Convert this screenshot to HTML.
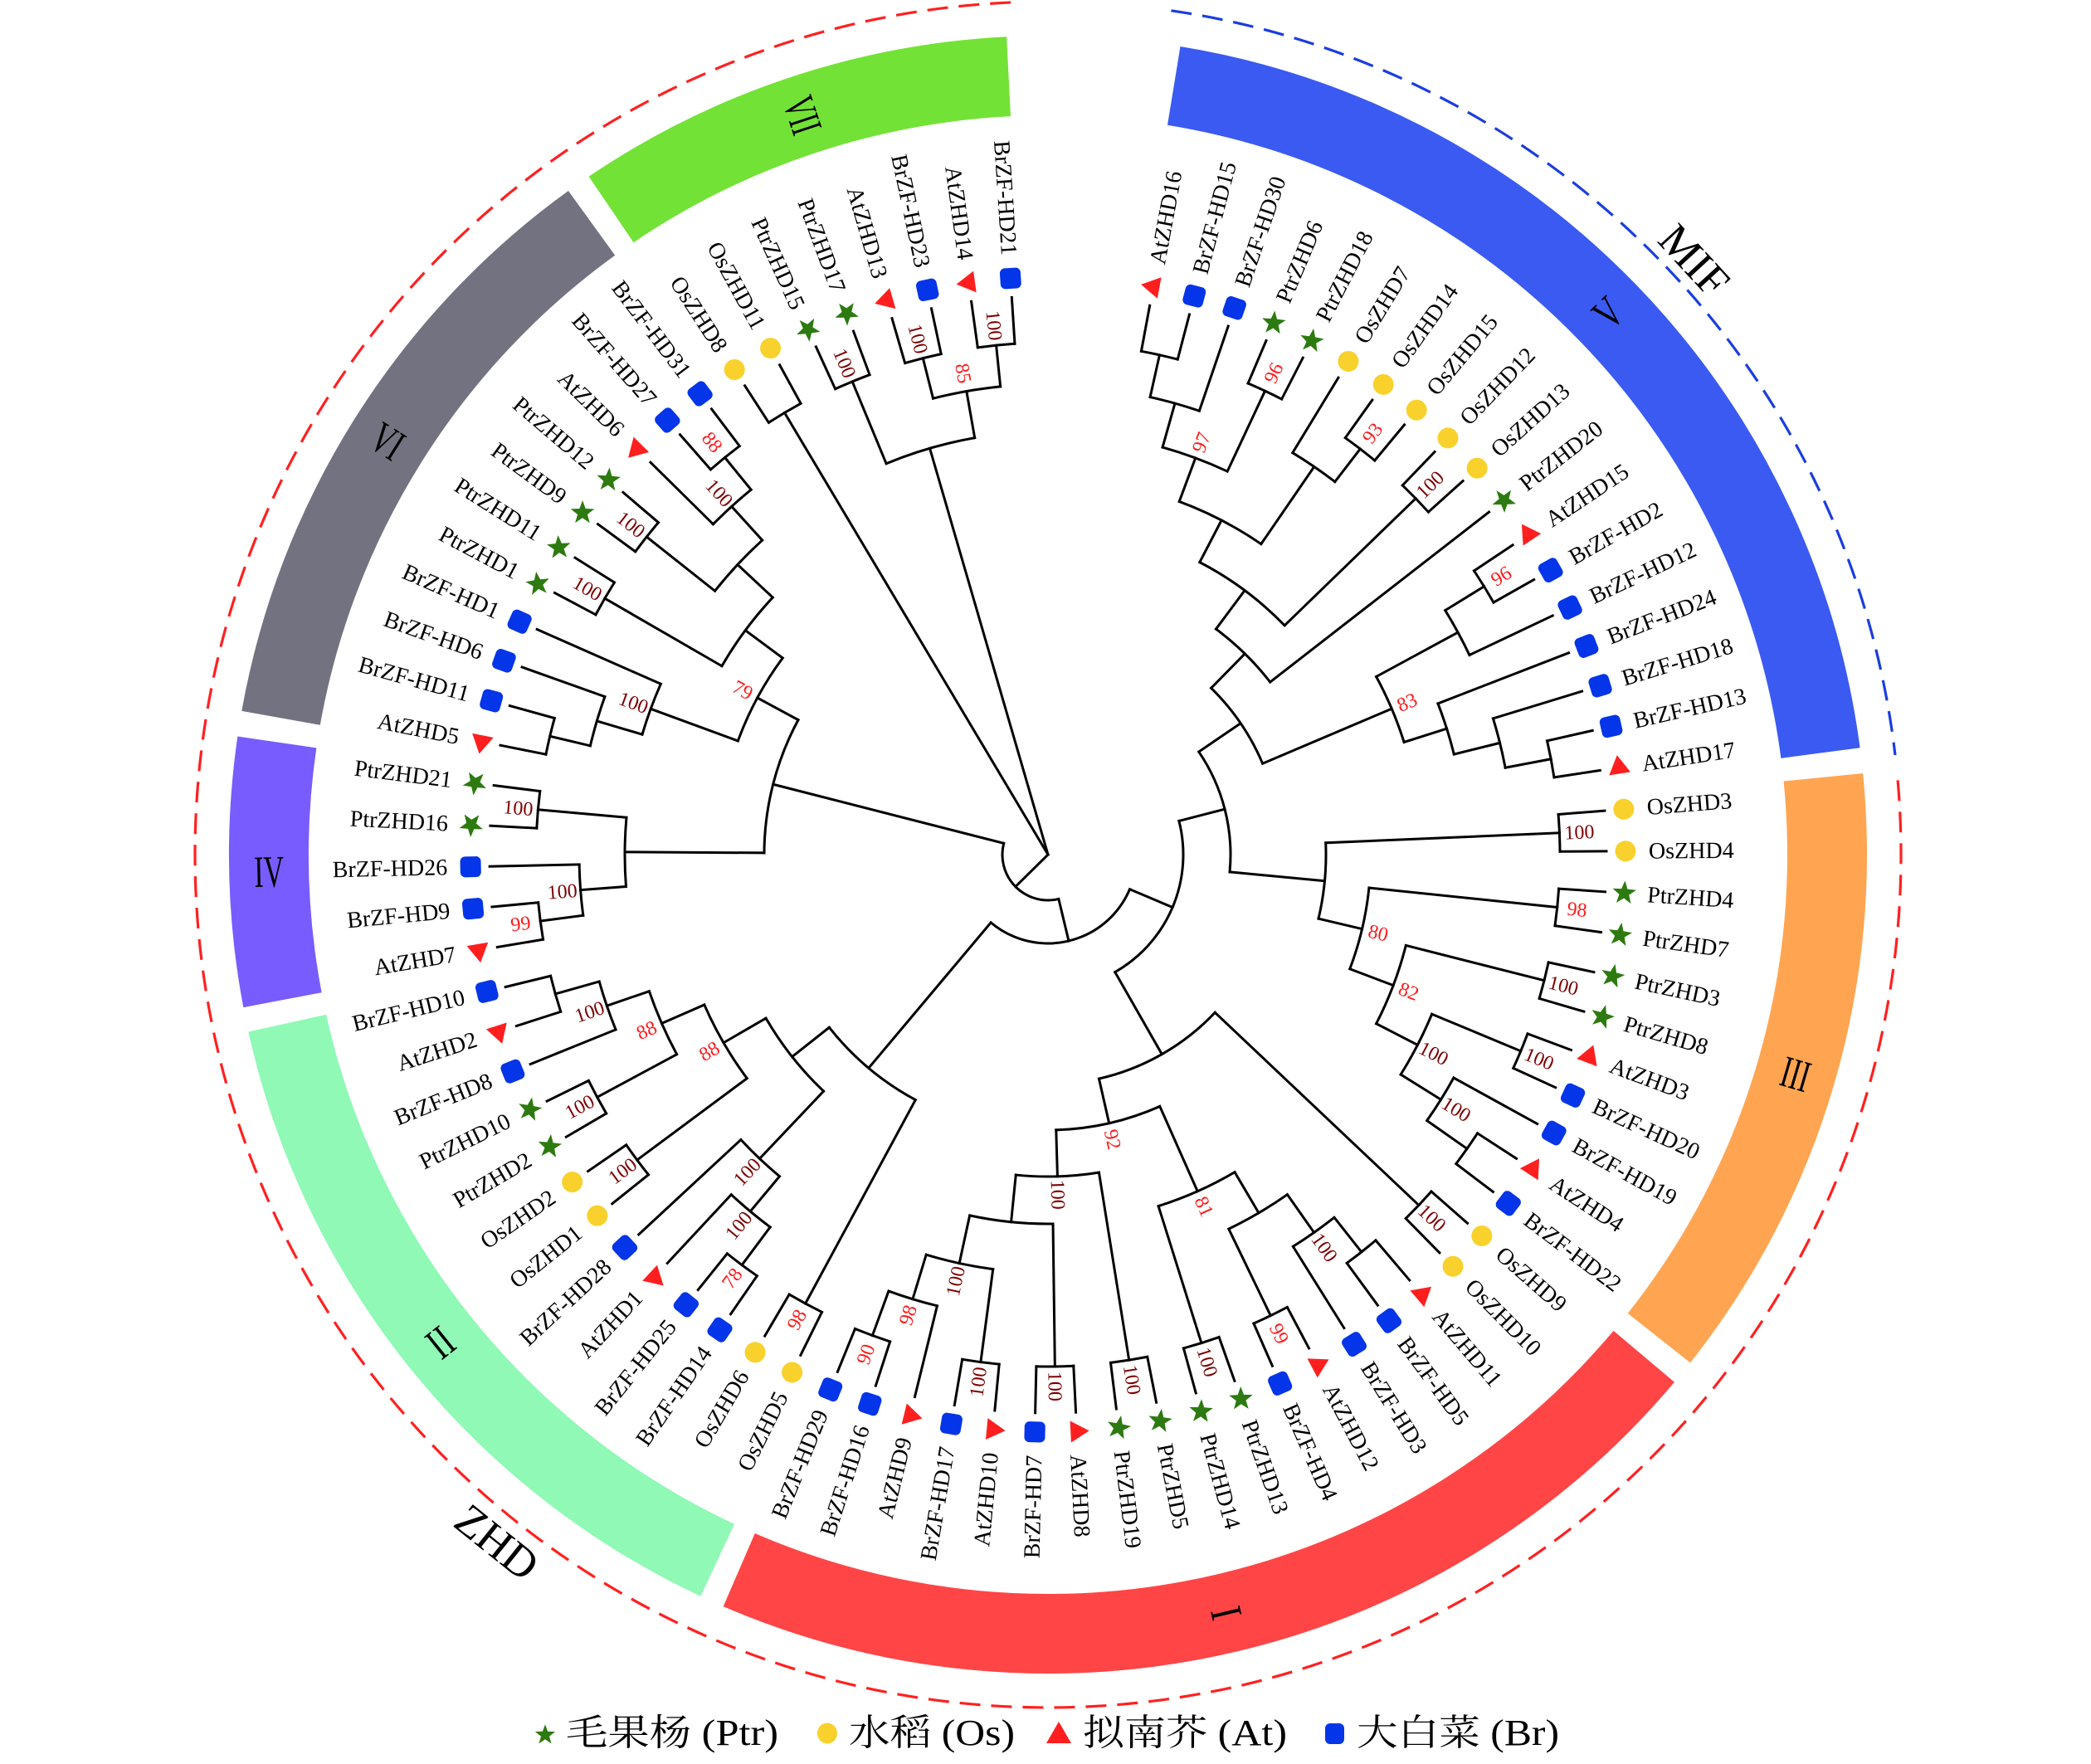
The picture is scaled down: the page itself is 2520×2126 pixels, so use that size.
<!DOCTYPE html>
<html>
<head>
<meta charset="utf-8">
<style>
html,body{margin:0;padding:0;background:#fff;width:2520px;height:2126px;overflow:hidden;}
svg{display:block;position:absolute;left:0;top:0;}
.tl{fill:none;stroke:#000;stroke-width:3;stroke-linecap:square;}
.lab{font-family:"Liberation Serif","Noto Serif CJK SC",serif;font-size:28px;fill:#000;}
.L text{text-anchor:end;}
.bs{font-family:"Liberation Serif",serif;font-size:24px;text-anchor:middle;}
.dk{fill:#7d0000;}
.rd{fill:#ff1a1a;}
.rn{font-family:"Liberation Serif",serif;font-size:54px;text-anchor:middle;fill:#000;}
</style>
</head>
<body>
<svg width="2520" height="2126" viewBox="0 0 2520 2126" xmlns="http://www.w3.org/2000/svg">
<defs>
<path id="sT" d="M0,-15L13,7.5L-13,7.5Z" fill="#ff1f1f" transform="translate(0,-696) rotate(-90)"/>
<path id="sP" d="M0,-15L3.64,-5.02L14.27,-4.64L5.9,1.92L8.82,12.14L0,6.2L-8.82,12.14L-5.9,1.92L-14.27,-4.64L-3.64,-5.02Z" fill="#2d7a10" transform="translate(0,-696) rotate(-90)"/>
<circle id="sC" cx="0" cy="-696" r="12.5" fill="#f9d12c"/>
<rect id="sS" x="-12.5" y="-708.5" width="25" height="25" rx="6" fill="#0535e8"/>
</defs>
<g transform="translate(1263 1030)">
<g fill="none" stroke-width="96">
<circle r="939" stroke="#3a5af2" stroke-dasharray="1199.7 6000" transform="rotate(-80.7)"/>
<circle r="939" stroke="#ffa552" stroke-dasharray="721.9 6000" transform="rotate(-5.7)"/>
<circle r="939" stroke="#ff4545" stroke-dasharray="1200.5 6000" transform="rotate(40.1)"/>
<circle r="939" stroke="#8ff9b5" stroke-dasharray="858.8 6000" transform="rotate(115.1)"/>
<circle r="939" stroke="#795cfd" stroke-dasharray="312.2 6000" transform="rotate(169.25)"/>
<circle r="939" stroke="#737280" stroke-dasharray="721.9 6000" transform="rotate(190.1)"/>
<circle r="939" stroke="#73e236" stroke-dasharray="511.4 6000" transform="rotate(235.9)"/>
</g>
<g class="rn">
<text transform="rotate(-44.1) translate(939,0)" y="19" textLength="28" lengthAdjust="spacingAndGlyphs">V</text>
<text transform="rotate(16.3) translate(939,0)" y="19" textLength="34" lengthAdjust="spacingAndGlyphs">III</text>
<text transform="rotate(76.7) translate(939,0)" y="19" textLength="14" lengthAdjust="spacingAndGlyphs">I</text>
<text transform="rotate(-38.7) translate(-939,0)" y="19" textLength="26" lengthAdjust="spacingAndGlyphs">II</text>
<text transform="rotate(-1.2) translate(-939,0)" y="19" textLength="36" lengthAdjust="spacingAndGlyphs">IV</text>
<text transform="rotate(32.1) translate(-939,0)" y="19" textLength="36" lengthAdjust="spacingAndGlyphs">VI</text>
<text transform="rotate(71.7) translate(-939,0)" y="19" textLength="44" lengthAdjust="spacingAndGlyphs">VII</text>
</g>
<path d="M1024.1,-89.6 A1028,1028 0 1 1 -41.3,-1027.2" fill="none" stroke="#ff2020" stroke-width="3.2" stroke-dasharray="25 13"/>
<path d="M148.4,-1017.2 A1028,1028 0 0 1 1021.0,-119.9" fill="none" stroke="#1a3de0" stroke-width="3.2" stroke-dasharray="25 13"/>
<text x="0" y="0" transform="rotate(47.4) translate(0,-1058)" dy="18" font-family="Liberation Serif, serif" font-size="54" text-anchor="middle">MIF</text>
<text x="0" y="0" transform="rotate(218.7) translate(0,-1062) rotate(180)" dy="18" font-family="Liberation Serif, serif" font-size="54" text-anchor="middle">ZHD</text>

<g class="tl">
<circle r="617" stroke-dasharray="44.9 9999" transform="rotate(-79.5)"/>
<circle r="565" stroke-dasharray="61.58 9999" transform="rotate(-77.415)"/>
<circle r="617" stroke-dasharray="44.9 9999" transform="rotate(-67)"/>
<circle r="510" stroke-dasharray="83.40 9999" transform="rotate(-74.29)"/>
<circle r="617" stroke-dasharray="44.9 9999" transform="rotate(-54.5)"/>
<circle r="567" stroke-dasharray="61.85 9999" transform="rotate(-58.67)"/>
<circle r="454" stroke-dasharray="111.41 9999" transform="rotate(-69.605)"/>
<circle r="617" stroke-dasharray="44.9 9999" transform="rotate(-46.17)"/>
<circle r="397" stroke-dasharray="128.08 9999" transform="rotate(-62.575)"/>
<circle r="339" stroke-dasharray="91.65 9999" transform="rotate(-53.33)"/>
<circle r="617" stroke-dasharray="44.9 9999" transform="rotate(-33.67)"/>
<circle r="562" stroke-dasharray="61.30 9999" transform="rotate(-31.59)"/>
<circle r="617" stroke-dasharray="44.9 9999" transform="rotate(-12.84)"/>
<circle r="561" stroke-dasharray="61.19 9999" transform="rotate(-17.01)"/>
<circle r="504" stroke-dasharray="64.17 9999" transform="rotate(-21.18)"/>
<circle r="450" stroke-dasharray="85.88 9999" transform="rotate(-28.465)"/>
<circle r="281" stroke-dasharray="110.76 9999" transform="rotate(-45.585)"/>
<circle r="617" stroke-dasharray="44.9 9999" transform="rotate(-4.51)"/>
<circle r="617" stroke-dasharray="44.9 9999" transform="rotate(3.82)"/>
<circle r="617" stroke-dasharray="44.9 9999" transform="rotate(12.15)"/>
<circle r="617" stroke-dasharray="44.9 9999" transform="rotate(20.48)"/>
<circle r="617" stroke-dasharray="44.9 9999" transform="rotate(32.98)"/>
<circle r="558" stroke-dasharray="60.82 9999" transform="rotate(28.82)"/>
<circle r="501" stroke-dasharray="81.98 9999" transform="rotate(22.565)"/>
<circle r="445" stroke-dasharray="101.08 9999" transform="rotate(14.235)"/>
<circle r="389" stroke-dasharray="100.72 9999" transform="rotate(5.905)"/>
<circle r="335" stroke-dasharray="92.09 9999" transform="rotate(-2.43)"/>
<circle r="220" stroke-dasharray="152.57 9999" transform="rotate(-34.29)"/>
<circle r="615" stroke-dasharray="44.76 9999" transform="rotate(41.31)"/>
<circle r="610" stroke-dasharray="44.3 9999" transform="rotate(49.65)"/>
<circle r="557" stroke-dasharray="60.76 9999" transform="rotate(51.73)"/>
<circle r="617" stroke-dasharray="44.9 9999" transform="rotate(62.14)"/>
<circle r="501" stroke-dasharray="81.93 9999" transform="rotate(54.855)"/>
<circle r="617" stroke-dasharray="44.9 9999" transform="rotate(70.48)"/>
<circle r="444" stroke-dasharray="100.89 9999" transform="rotate(59.54)"/>
<circle r="617" stroke-dasharray="44.9 9999" transform="rotate(78.81)"/>
<circle r="617" stroke-dasharray="44.9 9999" transform="rotate(87.14)"/>
<circle r="617" stroke-dasharray="44.9 9999" transform="rotate(95.47)"/>
<circle r="617" stroke-dasharray="44.9 9999" transform="rotate(107.97)"/>
<circle r="560" stroke-dasharray="61.13 9999" transform="rotate(103.8)"/>
<circle r="504" stroke-dasharray="82.47 9999" transform="rotate(97.555)"/>
<circle r="445" stroke-dasharray="101.08 9999" transform="rotate(89.225)"/>
<circle r="388" stroke-dasharray="100.49 9999" transform="rotate(80.89)"/>
<circle r="332" stroke-dasharray="128.99 9999" transform="rotate(66.05)"/>
<circle r="277" stroke-dasharray="163.33 9999" transform="rotate(43.395)"/>
<circle r="163" stroke-dasharray="212.54 9999" transform="rotate(-14.42)"/>
<circle r="615" stroke-dasharray="44.76 9999" transform="rotate(116.3)"/>
<circle r="617" stroke-dasharray="44.9 9999" transform="rotate(124.63)"/>
<circle r="560" stroke-dasharray="61.13 9999" transform="rotate(126.715)"/>
<circle r="505" stroke-dasharray="64.25 9999" transform="rotate(129.84)"/>
<circle r="617" stroke-dasharray="44.8 9999" transform="rotate(141.3)"/>
<circle r="617" stroke-dasharray="44.9 9999" transform="rotate(149.63)"/>
<circle r="617" stroke-dasharray="44.8 9999" transform="rotate(162.13)"/>
<circle r="562" stroke-dasharray="61.30 9999" transform="rotate(157.96)"/>
<circle r="508" stroke-dasharray="83.08 9999" transform="rotate(151.715)"/>
<circle r="452" stroke-dasharray="102.71 9999" transform="rotate(143.38)"/>
<circle r="393" stroke-dasharray="112.52 9999" transform="rotate(133.485)"/>
<circle r="336" stroke-dasharray="136.67 9999" transform="rotate(118.385)"/>
<circle r="107" stroke-dasharray="200.02 9999" transform="rotate(22.935)"/>
<circle r="617" stroke-dasharray="44.9 9999" transform="rotate(170.46)"/>
<circle r="565" stroke-dasharray="61.58 9999" transform="rotate(172.545)"/>
<circle r="617" stroke-dasharray="44.8 9999" transform="rotate(182.96)"/>
<circle r="510" stroke-dasharray="83.40 9999" transform="rotate(175.67)"/>
<circle r="617" stroke-dasharray="44.9 9999" transform="rotate(191.29)"/>
<circle r="567" stroke-dasharray="61.80 9999" transform="rotate(193.375)"/>
<circle r="510" stroke-dasharray="64.89 9999" transform="rotate(196.5)"/>
<circle r="617" stroke-dasharray="44.9 9999" transform="rotate(207.95)"/>
<circle r="617" stroke-dasharray="44.8 9999" transform="rotate(216.29)"/>
<circle r="617" stroke-dasharray="44.9 9999" transform="rotate(228.78)"/>
<circle r="567" stroke-dasharray="61.80 9999" transform="rotate(224.62)"/>
<circle r="512" stroke-dasharray="83.73 9999" transform="rotate(218.37)"/>
<circle r="454" stroke-dasharray="103.17 9999" transform="rotate(210.035)"/>
<circle r="398" stroke-dasharray="113.92 9999" transform="rotate(200.145)"/>
<circle r="342" stroke-dasharray="167.07 9999" transform="rotate(180.355)"/>
<circle r="55" stroke-dasharray="113.14 9999" transform="rotate(76.49)"/>
<circle r="620" stroke-dasharray="45.0 9999" transform="rotate(237.12)"/>
<circle r="617" stroke-dasharray="44.8 9999" transform="rotate(245.45)"/>
<circle r="617" stroke-dasharray="44.9 9999" transform="rotate(253.78)"/>
<circle r="617" stroke-dasharray="44.9 9999" transform="rotate(262.11)"/>
<circle r="567" stroke-dasharray="82.43 9999" transform="rotate(255.865)"/>
<circle r="510" stroke-dasharray="111.26 9999" transform="rotate(247.53)"/>
</g>

<g class="tl">
<path d="M0-565V-617" transform="rotate(12.585)"/>
<path d="M0-510V-565" transform="rotate(15.71)"/>
<path d="M0-510V-617" transform="rotate(25.08)"/>
<path d="M0-454V-510" transform="rotate(20.395)"/>
<path d="M0-567V-617" transform="rotate(37.58)"/>
<path d="M0-454V-567" transform="rotate(34.455)"/>
<path d="M0-397V-454" transform="rotate(27.425)"/>
<path d="M0-397V-617" transform="rotate(45.91)"/>
<path d="M0-339V-397" transform="rotate(36.67)"/>
<path d="M0-281V-339" transform="rotate(44.415)"/>
<path d="M0-562V-617" transform="rotate(58.41)"/>
<path d="M0-450V-562" transform="rotate(61.535)"/>
<path d="M0-561V-617" transform="rotate(79.24)"/>
<path d="M0-504V-561" transform="rotate(76.115)"/>
<path d="M0-450V-504" transform="rotate(72.47)"/>
<path d="M0-281V-450" transform="rotate(67)"/>
<path d="M0-220V-281" transform="rotate(55.71)"/>
<path d="M0-335V-617" transform="rotate(87.57)"/>
<path d="M0-389V-617" transform="rotate(95.905)"/>
<path d="M0-445V-617" transform="rotate(104.235)"/>
<path d="M0-501V-617" transform="rotate(112.565)"/>
<path d="M0-558V-617" transform="rotate(125.065)"/>
<path d="M0-501V-558" transform="rotate(121.94)"/>
<path d="M0-445V-501" transform="rotate(117.25)"/>
<path d="M0-389V-445" transform="rotate(110.74)"/>
<path d="M0-335V-389" transform="rotate(103.32)"/>
<path d="M0-220V-335" transform="rotate(95.445)"/>
<path d="M0-163V-220" transform="rotate(75.58)"/>
<path d="M0-277V-615" transform="rotate(133.395)"/>
<path d="M0-557V-610" transform="rotate(141.73)"/>
<path d="M0-501V-557" transform="rotate(144.855)"/>
<path d="M0-501V-617" transform="rotate(154.225)"/>
<path d="M0-444V-501" transform="rotate(149.54)"/>
<path d="M0-444V-617" transform="rotate(162.56)"/>
<path d="M0-332V-444" transform="rotate(156.05)"/>
<path d="M0-388V-617" transform="rotate(170.89)"/>
<path d="M0-445V-617" transform="rotate(179.225)"/>
<path d="M0-504V-617" transform="rotate(187.555)"/>
<path d="M0-560V-617" transform="rotate(200.055)"/>
<path d="M0-504V-560" transform="rotate(196.93)"/>
<path d="M0-445V-504" transform="rotate(192.24)"/>
<path d="M0-388V-445" transform="rotate(185.73)"/>
<path d="M0-332V-388" transform="rotate(178.31)"/>
<path d="M0-277V-332" transform="rotate(167.18)"/>
<path d="M0-163V-277" transform="rotate(150.29)"/>
<path d="M0-107V-163" transform="rotate(112.935)"/>
<path d="M0-336V-615" transform="rotate(208.385)"/>
<path d="M0-560V-617" transform="rotate(216.715)"/>
<path d="M0-505V-560" transform="rotate(219.84)"/>
<path d="M0-393V-505" transform="rotate(223.485)"/>
<path d="M0-452V-617" transform="rotate(233.38)"/>
<path d="M0-508V-617" transform="rotate(241.715)"/>
<path d="M0-562V-617" transform="rotate(254.21)"/>
<path d="M0-508V-562" transform="rotate(251.085)"/>
<path d="M0-452V-508" transform="rotate(246.4)"/>
<path d="M0-393V-452" transform="rotate(239.89)"/>
<path d="M0-336V-393" transform="rotate(231.69)"/>
<path d="M0-107V-336" transform="rotate(220.04)"/>
<path d="M0-55V-107" transform="rotate(166.49)"/>
<path d="M0-565V-617" transform="rotate(262.545)"/>
<path d="M0-510V-565" transform="rotate(265.67)"/>
<path d="M0-510V-617" transform="rotate(275.04)"/>
<path d="M0-342V-510" transform="rotate(270.355)"/>
<path d="M0-567V-617" transform="rotate(283.375)"/>
<path d="M0-510V-567" transform="rotate(286.5)"/>
<path d="M0-398V-510" transform="rotate(290.145)"/>
<path d="M0-454V-617" transform="rotate(300.035)"/>
<path d="M0-512V-617" transform="rotate(308.37)"/>
<path d="M0-567V-617" transform="rotate(320.865)"/>
<path d="M0-512V-567" transform="rotate(317.74)"/>
<path d="M0-454V-512" transform="rotate(313.055)"/>
<path d="M0-398V-454" transform="rotate(306.545)"/>
<path d="M0-342V-398" transform="rotate(298.345)"/>
<path d="M0-55V-342" transform="rotate(284.35)"/>
<path d="M0 0V-55" transform="rotate(225.42)"/>
<path d="M0 0V-620" transform="rotate(329.2)"/>
<path d="M0-510V-617" transform="rotate(337.53)"/>
<path d="M0-567V-617" transform="rotate(345.865)"/>
<path d="M0-567V-617" transform="rotate(354.195)"/>
<path d="M0-510V-567" transform="rotate(350.03)"/>
<path d="M0 0V-510" transform="rotate(343.78)"/>
</g>

<g class="tl">
<path d="M0-617V-673" transform="rotate(10.5)"/>
<path d="M0-617V-673" transform="rotate(14.67)"/>
<path d="M0-565V-673" transform="rotate(18.83)"/>
<path d="M0-617V-673" transform="rotate(23)"/>
<path d="M0-617V-673" transform="rotate(27.16)"/>
<path d="M0-567V-673" transform="rotate(31.33)"/>
<path d="M0-617V-673" transform="rotate(35.5)"/>
<path d="M0-617V-673" transform="rotate(39.66)"/>
<path d="M0-617V-673" transform="rotate(43.83)"/>
<path d="M0-617V-673" transform="rotate(47.99)"/>
<path d="M0-339V-673" transform="rotate(52.16)"/>
<path d="M0-617V-673" transform="rotate(56.33)"/>
<path d="M0-617V-673" transform="rotate(60.49)"/>
<path d="M0-562V-673" transform="rotate(64.66)"/>
<path d="M0-504V-673" transform="rotate(68.82)"/>
<path d="M0-561V-673" transform="rotate(72.99)"/>
<path d="M0-617V-673" transform="rotate(77.16)"/>
<path d="M0-617V-673" transform="rotate(81.32)"/>
<path d="M0-617V-673" transform="rotate(85.49)"/>
<path d="M0-617V-673" transform="rotate(89.65)"/>
<path d="M0-617V-673" transform="rotate(93.82)"/>
<path d="M0-617V-673" transform="rotate(97.99)"/>
<path d="M0-617V-673" transform="rotate(102.15)"/>
<path d="M0-617V-673" transform="rotate(106.32)"/>
<path d="M0-617V-673" transform="rotate(110.48)"/>
<path d="M0-617V-673" transform="rotate(114.65)"/>
<path d="M0-558V-673" transform="rotate(118.82)"/>
<path d="M0-617V-673" transform="rotate(122.98)"/>
<path d="M0-617V-673" transform="rotate(127.15)"/>
<path d="M0-615V-673" transform="rotate(131.31)"/>
<path d="M0-615V-673" transform="rotate(135.48)"/>
<path d="M0-610V-673" transform="rotate(139.65)"/>
<path d="M0-610V-673" transform="rotate(143.81)"/>
<path d="M0-557V-673" transform="rotate(147.98)"/>
<path d="M0-617V-673" transform="rotate(152.14)"/>
<path d="M0-617V-673" transform="rotate(156.31)"/>
<path d="M0-617V-673" transform="rotate(160.48)"/>
<path d="M0-617V-673" transform="rotate(164.64)"/>
<path d="M0-617V-673" transform="rotate(168.81)"/>
<path d="M0-617V-673" transform="rotate(172.97)"/>
<path d="M0-617V-673" transform="rotate(177.14)"/>
<path d="M0-617V-673" transform="rotate(181.31)"/>
<path d="M0-617V-673" transform="rotate(185.47)"/>
<path d="M0-617V-673" transform="rotate(189.64)"/>
<path d="M0-560V-673" transform="rotate(193.8)"/>
<path d="M0-617V-673" transform="rotate(197.97)"/>
<path d="M0-617V-673" transform="rotate(202.14)"/>
<path d="M0-615V-673" transform="rotate(206.3)"/>
<path d="M0-615V-673" transform="rotate(210.47)"/>
<path d="M0-617V-673" transform="rotate(214.63)"/>
<path d="M0-617V-673" transform="rotate(218.8)"/>
<path d="M0-560V-673" transform="rotate(222.97)"/>
<path d="M0-505V-673" transform="rotate(227.13)"/>
<path d="M0-617V-673" transform="rotate(231.3)"/>
<path d="M0-617V-673" transform="rotate(235.46)"/>
<path d="M0-617V-673" transform="rotate(239.63)"/>
<path d="M0-617V-673" transform="rotate(243.8)"/>
<path d="M0-562V-673" transform="rotate(247.96)"/>
<path d="M0-617V-673" transform="rotate(252.13)"/>
<path d="M0-617V-673" transform="rotate(256.29)"/>
<path d="M0-617V-673" transform="rotate(260.46)"/>
<path d="M0-617V-673" transform="rotate(264.63)"/>
<path d="M0-565V-673" transform="rotate(268.79)"/>
<path d="M0-617V-673" transform="rotate(272.96)"/>
<path d="M0-617V-673" transform="rotate(277.12)"/>
<path d="M0-617V-673" transform="rotate(281.29)"/>
<path d="M0-617V-673" transform="rotate(285.46)"/>
<path d="M0-567V-673" transform="rotate(289.62)"/>
<path d="M0-510V-673" transform="rotate(293.79)"/>
<path d="M0-617V-673" transform="rotate(297.95)"/>
<path d="M0-617V-673" transform="rotate(302.12)"/>
<path d="M0-617V-673" transform="rotate(306.29)"/>
<path d="M0-617V-673" transform="rotate(310.45)"/>
<path d="M0-567V-673" transform="rotate(314.62)"/>
<path d="M0-617V-673" transform="rotate(318.78)"/>
<path d="M0-617V-673" transform="rotate(322.95)"/>
<path d="M0-620V-673" transform="rotate(327.12)"/>
<path d="M0-620V-673" transform="rotate(331.28)"/>
<path d="M0-617V-673" transform="rotate(335.45)"/>
<path d="M0-617V-673" transform="rotate(339.61)"/>
<path d="M0-617V-673" transform="rotate(343.78)"/>
<path d="M0-617V-673" transform="rotate(347.95)"/>
<path d="M0-617V-673" transform="rotate(352.11)"/>
<path d="M0-617V-673" transform="rotate(356.28)"/>
</g>

<g>
<use href="#sT" transform="rotate(10.5)"/>
<use href="#sS" transform="rotate(14.67)"/>
<use href="#sS" transform="rotate(18.83)"/>
<use href="#sP" transform="rotate(23)"/>
<use href="#sP" transform="rotate(27.16)"/>
<use href="#sC" transform="rotate(31.33)"/>
<use href="#sC" transform="rotate(35.5)"/>
<use href="#sC" transform="rotate(39.66)"/>
<use href="#sC" transform="rotate(43.83)"/>
<use href="#sC" transform="rotate(47.99)"/>
<use href="#sP" transform="rotate(52.16)"/>
<use href="#sT" transform="rotate(56.33)"/>
<use href="#sS" transform="rotate(60.49)"/>
<use href="#sS" transform="rotate(64.66)"/>
<use href="#sS" transform="rotate(68.82)"/>
<use href="#sS" transform="rotate(72.99)"/>
<use href="#sS" transform="rotate(77.16)"/>
<use href="#sT" transform="rotate(81.32)"/>
<use href="#sC" transform="rotate(85.49)"/>
<use href="#sC" transform="rotate(89.65)"/>
<use href="#sP" transform="rotate(93.82)"/>
<use href="#sP" transform="rotate(97.99)"/>
<use href="#sP" transform="rotate(102.15)"/>
<use href="#sP" transform="rotate(106.32)"/>
<use href="#sT" transform="rotate(110.48)"/>
<use href="#sS" transform="rotate(114.65)"/>
<use href="#sS" transform="rotate(118.82)"/>
<use href="#sT" transform="rotate(122.98)"/>
<use href="#sS" transform="rotate(127.15)"/>
<use href="#sC" transform="rotate(131.31)"/>
<use href="#sC" transform="rotate(135.48)"/>
<use href="#sT" transform="rotate(139.65)"/>
<use href="#sS" transform="rotate(143.81)"/>
<use href="#sS" transform="rotate(147.98)"/>
<use href="#sT" transform="rotate(152.14)"/>
<use href="#sS" transform="rotate(156.31)"/>
<use href="#sP" transform="rotate(160.48)"/>
<use href="#sP" transform="rotate(164.64)"/>
<use href="#sP" transform="rotate(168.81)"/>
<use href="#sP" transform="rotate(172.97)"/>
<use href="#sT" transform="rotate(177.14)"/>
<use href="#sS" transform="rotate(181.31)"/>
<use href="#sT" transform="rotate(185.47)"/>
<use href="#sS" transform="rotate(189.64)"/>
<use href="#sT" transform="rotate(193.8)"/>
<use href="#sS" transform="rotate(197.97)"/>
<use href="#sS" transform="rotate(202.14)"/>
<use href="#sC" transform="rotate(206.3)"/>
<use href="#sC" transform="rotate(210.47)"/>
<use href="#sS" transform="rotate(214.63)"/>
<use href="#sS" transform="rotate(218.8)"/>
<use href="#sT" transform="rotate(222.97)"/>
<use href="#sS" transform="rotate(227.13)"/>
<use href="#sC" transform="rotate(231.3)"/>
<use href="#sC" transform="rotate(235.46)"/>
<use href="#sP" transform="rotate(239.63)"/>
<use href="#sP" transform="rotate(243.8)"/>
<use href="#sS" transform="rotate(247.96)"/>
<use href="#sT" transform="rotate(252.13)"/>
<use href="#sS" transform="rotate(256.29)"/>
<use href="#sT" transform="rotate(260.46)"/>
<use href="#sS" transform="rotate(264.63)"/>
<use href="#sS" transform="rotate(268.79)"/>
<use href="#sP" transform="rotate(272.96)"/>
<use href="#sP" transform="rotate(277.12)"/>
<use href="#sT" transform="rotate(281.29)"/>
<use href="#sS" transform="rotate(285.46)"/>
<use href="#sS" transform="rotate(289.62)"/>
<use href="#sS" transform="rotate(293.79)"/>
<use href="#sP" transform="rotate(297.95)"/>
<use href="#sP" transform="rotate(302.12)"/>
<use href="#sP" transform="rotate(306.29)"/>
<use href="#sP" transform="rotate(310.45)"/>
<use href="#sT" transform="rotate(314.62)"/>
<use href="#sS" transform="rotate(318.78)"/>
<use href="#sS" transform="rotate(322.95)"/>
<use href="#sC" transform="rotate(327.12)"/>
<use href="#sC" transform="rotate(331.28)"/>
<use href="#sP" transform="rotate(335.45)"/>
<use href="#sP" transform="rotate(339.61)"/>
<use href="#sT" transform="rotate(343.78)"/>
<use href="#sS" transform="rotate(347.95)"/>
<use href="#sT" transform="rotate(352.11)"/>
<use href="#sS" transform="rotate(356.28)"/>
</g>

<g class="lab">
<text x="724" y="9" transform="rotate(-79.5)">AtZHD16</text>
<text x="724" y="9" transform="rotate(-75.33)">BrZF-HD15</text>
<text x="724" y="9" transform="rotate(-71.17)">BrZF-HD30</text>
<text x="724" y="9" transform="rotate(-67)">PtrZHD6</text>
<text x="724" y="9" transform="rotate(-62.84)">PtrZHD18</text>
<text x="724" y="9" transform="rotate(-58.67)">OsZHD7</text>
<text x="724" y="9" transform="rotate(-54.5)">OsZHD14</text>
<text x="724" y="9" transform="rotate(-50.34)">OsZHD15</text>
<text x="724" y="9" transform="rotate(-46.17)">OsZHD12</text>
<text x="724" y="9" transform="rotate(-42.01)">OsZHD13</text>
<text x="724" y="9" transform="rotate(-37.84)">PtrZHD20</text>
<text x="724" y="9" transform="rotate(-33.67)">AtZHD15</text>
<text x="724" y="9" transform="rotate(-29.51)">BrZF-HD2</text>
<text x="724" y="9" transform="rotate(-25.34)">BrZF-HD12</text>
<text x="724" y="9" transform="rotate(-21.18)">BrZF-HD24</text>
<text x="724" y="9" transform="rotate(-17.01)">BrZF-HD18</text>
<text x="724" y="9" transform="rotate(-12.84)">BrZF-HD13</text>
<text x="724" y="9" transform="rotate(-8.68)">AtZHD17</text>
<text x="724" y="9" transform="rotate(-4.51)">OsZHD3</text>
<text x="724" y="9" transform="rotate(-0.35)">OsZHD4</text>
<text x="724" y="9" transform="rotate(3.82)">PtrZHD4</text>
<text x="724" y="9" transform="rotate(7.99)">PtrZHD7</text>
<text x="724" y="9" transform="rotate(12.15)">PtrZHD3</text>
<text x="724" y="9" transform="rotate(16.32)">PtrZHD8</text>
<text x="724" y="9" transform="rotate(20.48)">AtZHD3</text>
<text x="724" y="9" transform="rotate(24.65)">BrZF-HD20</text>
<text x="724" y="9" transform="rotate(28.82)">BrZF-HD19</text>
<text x="724" y="9" transform="rotate(32.98)">AtZHD4</text>
<text x="724" y="9" transform="rotate(37.15)">BrZF-HD22</text>
<text x="724" y="9" transform="rotate(41.31)">OsZHD9</text>
<text x="724" y="9" transform="rotate(45.48)">OsZHD10</text>
<text x="724" y="9" transform="rotate(49.65)">AtZHD11</text>
<text x="724" y="9" transform="rotate(53.81)">BrZF-HD5</text>
<text x="724" y="9" transform="rotate(57.98)">BrZF-HD3</text>
<text x="724" y="9" transform="rotate(62.14)">AtZHD12</text>
<text x="724" y="9" transform="rotate(66.31)">BrZF-HD4</text>
<text x="724" y="9" transform="rotate(70.48)">PtrZHD13</text>
<text x="724" y="9" transform="rotate(74.64)">PtrZHD14</text>
<text x="724" y="9" transform="rotate(78.81)">PtrZHD5</text>
<text x="724" y="9" transform="rotate(82.97)">PtrZHD19</text>
<text x="724" y="9" transform="rotate(87.14)">AtZHD8</text>
</g>
<g class="lab L">
<text x="-724" y="9" transform="rotate(-88.69)">BrZF-HD7</text>
<text x="-724" y="9" transform="rotate(-84.53)">AtZHD10</text>
<text x="-724" y="9" transform="rotate(-80.36)">BrZF-HD17</text>
<text x="-724" y="9" transform="rotate(-76.2)">AtZHD9</text>
<text x="-724" y="9" transform="rotate(-72.03)">BrZF-HD16</text>
<text x="-724" y="9" transform="rotate(-67.86)">BrZF-HD29</text>
<text x="-724" y="9" transform="rotate(-63.7)">OsZHD5</text>
<text x="-724" y="9" transform="rotate(-59.53)">OsZHD6</text>
<text x="-724" y="9" transform="rotate(-55.37)">BrZF-HD14</text>
<text x="-724" y="9" transform="rotate(-51.2)">BrZF-HD25</text>
<text x="-724" y="9" transform="rotate(-47.03)">AtZHD1</text>
<text x="-724" y="9" transform="rotate(-42.87)">BrZF-HD28</text>
<text x="-724" y="9" transform="rotate(-38.7)">OsZHD1</text>
<text x="-724" y="9" transform="rotate(-34.54)">OsZHD2</text>
<text x="-724" y="9" transform="rotate(-30.37)">PtrZHD2</text>
<text x="-724" y="9" transform="rotate(-26.2)">PtrZHD10</text>
<text x="-724" y="9" transform="rotate(-22.04)">BrZF-HD8</text>
<text x="-724" y="9" transform="rotate(-17.87)">AtZHD2</text>
<text x="-724" y="9" transform="rotate(-13.71)">BrZF-HD10</text>
<text x="-724" y="9" transform="rotate(-9.54)">AtZHD7</text>
<text x="-724" y="9" transform="rotate(-5.37)">BrZF-HD9</text>
<text x="-724" y="9" transform="rotate(-1.21)">BrZF-HD26</text>
<text x="-724" y="9" transform="rotate(2.96)">PtrZHD16</text>
<text x="-724" y="9" transform="rotate(7.12)">PtrZHD21</text>
<text x="-724" y="9" transform="rotate(11.29)">AtZHD5</text>
<text x="-724" y="9" transform="rotate(15.46)">BrZF-HD11</text>
<text x="-724" y="9" transform="rotate(19.62)">BrZF-HD6</text>
<text x="-724" y="9" transform="rotate(23.79)">BrZF-HD1</text>
<text x="-724" y="9" transform="rotate(27.95)">PtrZHD1</text>
<text x="-724" y="9" transform="rotate(32.12)">PtrZHD11</text>
<text x="-724" y="9" transform="rotate(36.29)">PtrZHD9</text>
<text x="-724" y="9" transform="rotate(40.45)">PtrZHD12</text>
<text x="-724" y="9" transform="rotate(44.62)">AtZHD6</text>
<text x="-724" y="9" transform="rotate(48.78)">BrZF-HD27</text>
<text x="-724" y="9" transform="rotate(52.95)">BrZF-HD31</text>
<text x="-724" y="9" transform="rotate(57.12)">OsZHD8</text>
<text x="-724" y="9" transform="rotate(61.28)">OsZHD11</text>
<text x="-724" y="9" transform="rotate(65.45)">PtrZHD15</text>
<text x="-724" y="9" transform="rotate(69.61)">PtrZHD17</text>
<text x="-724" y="9" transform="rotate(73.78)">AtZHD13</text>
<text x="-724" y="9" transform="rotate(77.95)">BrZF-HD23</text>
<text x="-724" y="9" transform="rotate(82.11)">AtZHD14</text>
<text x="-724" y="9" transform="rotate(86.28)">BrZF-HD21</text>
</g>

<g class="bs">
<text class="rd" x="641" y="8" transform="rotate(-64.92)">96</text>
<text class="rd" x="530" y="8" transform="rotate(-69.605)">97</text>
<text class="rd" x="641" y="8" transform="rotate(-52.42)">93</text>
<text class="dk" x="641" y="8" transform="rotate(-44.09)">100</text>
<text class="rd" x="641" y="8" transform="rotate(-31.59)">96</text>
<text class="rd" x="470" y="8" transform="rotate(-23)">83</text>
<text class="dk" x="641" y="8" transform="rotate(-2.43)">100</text>
<text class="rd" x="641" y="8" transform="rotate(5.905)">98</text>
<text class="dk" x="641" y="8" transform="rotate(14.235)">100</text>
<text class="dk" x="641" y="8" transform="rotate(22.565)">100</text>
<text class="dk" x="580" y="8" transform="rotate(31.94)">100</text>
<text class="dk" x="523" y="8" transform="rotate(27.25)">100</text>
<text class="rd" x="465" y="8" transform="rotate(20.74)">82</text>
<text class="rd" x="409" y="8" transform="rotate(13.32)">80</text>
<text class="dk" x="637" y="8" transform="rotate(43.395)">100</text>
<text class="dk" x="579" y="8" transform="rotate(54.855)">100</text>
<text class="rd" x="641" y="8" transform="rotate(64.225)">99</text>
<text class="dk" x="641" y="8" transform="rotate(72.56)">100</text>
<text class="rd" x="464" y="8" transform="rotate(66.05)">81</text>
<text class="dk" x="641" y="8" transform="rotate(80.89)">100</text>
<text class="dk" x="641" y="8" transform="rotate(89.225)">100</text>
<text class="rd" x="352" y="8" transform="rotate(77.18)">92</text>
<text class="dk" x="410" y="8" transform="rotate(88.31)">100</text>
<text class="dk" x="-641" y="8" transform="rotate(-82.445)">100</text>
<text class="rd" x="-641" y="8" transform="rotate(-69.945)">90</text>
<text class="rd" x="-580" y="8" transform="rotate(-73.07)">98</text>
<text class="dk" x="-526" y="8" transform="rotate(-77.76)">100</text>
<text class="rd" x="-637" y="8" transform="rotate(-61.615)">98</text>
<text class="rd" x="-637" y="8" transform="rotate(-53.285)">78</text>
<text class="dk" x="-582" y="8" transform="rotate(-50.16)">100</text>
<text class="dk" x="-527" y="8" transform="rotate(-46.515)">100</text>
<text class="dk" x="-639" y="8" transform="rotate(-36.62)">100</text>
<text class="dk" x="-641" y="8" transform="rotate(-28.285)">100</text>
<text class="dk" x="-584" y="8" transform="rotate(-18.915)">100</text>
<text class="rd" x="-528" y="8" transform="rotate(-23.6)">88</text>
<text class="rd" x="-472" y="8" transform="rotate(-30.11)">88</text>
<text class="rd" x="-641" y="8" transform="rotate(-7.455)">99</text>
<text class="dk" x="-587" y="8" transform="rotate(-4.33)">100</text>
<text class="dk" x="-641" y="8" transform="rotate(5.04)">100</text>
<text class="dk" x="-532" y="8" transform="rotate(20.145)">100</text>
<text class="dk" x="-641" y="8" transform="rotate(30.035)">100</text>
<text class="dk" x="-641" y="8" transform="rotate(38.37)">100</text>
<text class="rd" x="-641" y="8" transform="rotate(50.865)">88</text>
<text class="dk" x="-589" y="8" transform="rotate(47.74)">100</text>
<text class="rd" x="-418" y="8" transform="rotate(28.345)">79</text>
<text class="dk" x="-641" y="8" transform="rotate(67.53)">100</text>
<text class="dk" x="-641" y="8" transform="rotate(75.865)">100</text>
<text class="dk" x="-641" y="8" transform="rotate(84.195)">100</text>
<text class="rd" x="-589" y="8" transform="rotate(80.03)">85</text>
</g>
</g>

<g font-family="Liberation Serif, Noto Serif CJK SC, serif" font-size="44" fill="#000">
<path d="M0,-15L3.64,-5.02L14.27,-4.64L5.9,1.92L8.82,12.14L0,6.2L-8.82,12.14L-5.9,1.92L-14.27,-4.64L-3.64,-5.02Z" fill="#2d7a10" transform="translate(657 2091) scale(0.85)"/>
<text x="682" y="2103" textLength="256" lengthAdjust="spacingAndGlyphs">毛果杨 (Ptr)</text>
<ellipse cx="997" cy="2089" rx="12" ry="12.5" fill="#f9d12c"/>
<text x="1023" y="2103" textLength="200" lengthAdjust="spacingAndGlyphs">水稻 (Os)</text>
<path d="M1276,2075L1291,2101L1261,2101Z" fill="#ff1f1f"/>
<text x="1305" y="2103" textLength="246" lengthAdjust="spacingAndGlyphs">拟南芥 (At)</text>
<rect x="1597" y="2077" width="23" height="25" rx="6" fill="#0535e8"/>
<text x="1635" y="2103" textLength="244" lengthAdjust="spacingAndGlyphs">大白菜 (Br)</text>
</g>
</svg>
</body>
</html>
